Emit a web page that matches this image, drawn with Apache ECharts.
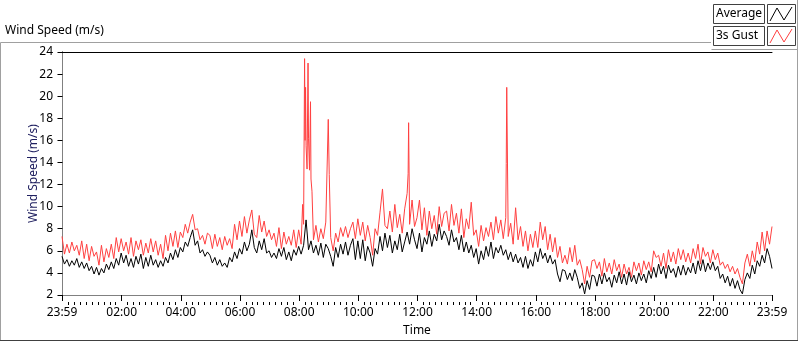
<!DOCTYPE html>
<html>
<head>
<meta charset="UTF-8">
<title>Wind Speed</title>
<style>
    html, body { margin: 0; padding: 0; background: #fff; }
    #chart { width: 800px; height: 342px; }
</style>
<script src="https://cdn.jsdelivr.net/npm/echarts@6/dist/echarts.min.js"></script>
</head>
<body>
<div id="chart"></div>
<script>
// time is in minutes after midnight, the log starts at 23:59 the day before
var startMinute = -1;
var stepMinutes = 5;

// average (m/s), one row per hour
var avgSpeed = [
    5.5, 4.8, 5.2, 4.6, 5.1, 4.7, 5.3, 4.5, 5.0, 4.4, 4.9, 4.2,
    4.6, 3.9, 4.5, 3.8, 4.4, 4.0, 4.8, 4.3, 5.0, 4.4, 5.3, 4.7,
    5.8, 4.9, 5.6, 4.6, 5.3, 4.5, 5.5, 4.8, 5.7, 4.4, 5.4, 4.6,
    5.6, 4.7, 5.2, 4.5, 5.1, 4.6, 5.4, 4.9, 5.8, 5.2, 6.1, 5.4,
    6.3, 5.9, 6.8, 6.4, 7.2, 7.9, 6.5, 6.9, 5.8, 6.1, 5.5, 5.9,
    5.6, 4.9, 5.4, 4.7, 5.2, 4.6, 4.9, 4.5, 5.4, 5.0, 5.9, 5.3,
    6.2, 5.7, 6.8, 6.0, 6.6, 7.9, 6.3, 5.8, 6.9, 6.1, 7.1, 5.8,
    6.0, 5.4, 5.8, 5.3, 6.2, 5.5, 6.3, 5.2, 5.9, 5.1, 6.1, 5.6,
    6.4, 5.7, 6.5, 8.8, 6.1, 6.9, 5.8, 6.5, 5.6, 6.7, 5.4, 6.6,
    6.2, 5.5, 4.6, 6.3, 5.4, 6.6, 5.7, 6.8, 5.6, 6.5, 7.1, 5.2,
    6.9, 5.3, 7.0, 5.1, 6.4, 5.8, 4.6, 6.2, 5.7, 7.3, 6.0, 7.6,
    6.3, 7.4, 5.8, 6.9, 6.1, 7.5, 5.9, 6.8, 7.7, 6.6, 8.0, 7.0,
    6.2, 7.6, 5.9, 7.2, 6.6, 7.8, 6.4, 7.5, 6.9, 8.4, 7.0, 7.8,
    7.3, 6.5, 7.9, 6.8, 7.2, 6.1, 7.4, 5.9, 6.8, 5.8, 6.5, 5.4,
    6.2, 4.8, 6.0, 5.2, 6.4, 5.5, 6.8, 5.3, 6.3, 5.8, 6.5, 5.6,
    6.1, 5.2, 5.9, 5.0, 5.7, 4.9, 5.4, 4.5, 5.5, 4.4, 5.2, 4.6,
    5.9, 5.0, 6.2, 5.3, 5.8, 4.9, 5.6, 4.8, 5.2, 3.9, 3.2, 4.3,
    4.2, 3.4, 4.0, 3.3, 4.3, 3.6, 2.6, 3.1, 2.1, 3.3, 2.5, 3.8,
    3.7, 2.8, 3.9, 3.0, 4.0, 3.2, 3.6, 2.7, 3.8, 3.1, 4.1, 3.0,
    3.9, 2.9, 4.1, 3.2, 3.8, 3.0, 4.0, 3.3, 3.9, 3.1, 4.2, 3.5,
    4.5, 3.6, 4.8, 3.9, 4.6, 3.5, 4.7, 4.0, 4.4, 3.6, 4.6, 3.8,
    4.7, 3.8, 4.5, 4.0, 4.9, 3.9, 5.1, 4.2, 5.2, 4.1, 4.9, 4.3,
    5.0, 4.2, 4.6, 3.5, 3.9, 3.1, 3.7, 2.8, 3.5, 2.6, 3.3, 2.5,
    2.1, 3.4, 4.0, 3.5, 4.7, 3.9, 5.1, 4.6, 5.6, 4.9, 6.2, 5.5,
    4.4
];

// 3s gust (m/s), same time steps
var gustBase = [
    7.3, 5.7, 6.6, 5.8, 6.8, 6.0, 6.5, 5.6, 6.9, 5.3, 6.6, 5.1,
    6.4, 5.5, 5.9, 4.7, 6.5, 5.0, 6.2, 5.4, 6.6, 5.3, 7.2, 5.9,
    7.1, 6.0, 6.8, 5.7, 7.2, 5.5, 6.9, 6.1, 7.0, 5.6, 6.7, 5.8,
    7.1, 5.9, 6.9, 5.6, 6.6, 5.3, 7.4, 6.0, 7.6, 6.4, 7.8, 6.3,
    7.7, 7.2, 8.4, 7.6, 8.6, 9.3, 7.9, 8.0, 7.0, 7.4, 6.6, 7.6,
    7.4, 6.2, 7.5, 6.4, 7.2, 6.1, 7.3, 6.5, 7.1, 6.2, 8.4, 7.0,
    8.7, 7.3, 9.1, 7.6, 8.8, 9.7, 7.5, 7.2, 9.2, 7.7, 8.7, 7.3,
    7.9, 7.0, 7.6, 6.4, 8.1, 6.2, 7.7, 6.6, 7.3, 6.5, 7.9, 6.3,
    7.9, 6.6, 8.4, 15.5, 16.2, 12.5, 7.0, 8.3, 6.8, 8.0, 7.1, 8.6,
    17.9, 7.2, 6.0, 7.6, 6.8, 8.1, 7.3, 8.2, 7.2, 8.0, 8.6, 7.1,
    8.9, 7.4, 8.6, 6.9, 8.3, 7.2, 5.6, 8.0, 7.4, 9.5, 11.6, 8.3,
    8.0, 9.6, 7.7, 10.2, 8.1, 9.3, 7.6, 9.8, 11.2, 8.4, 10.6, 8.2,
    9.0, 10.6, 7.9, 9.9, 7.4, 9.6, 8.0, 9.2, 7.5, 10.0, 8.2, 9.4,
    9.6, 7.8, 10.2, 8.3, 9.4, 7.6, 9.8, 7.2, 8.9, 8.0, 10.4, 7.4,
    7.9, 6.4, 8.3, 6.9, 8.1, 7.3, 8.6, 7.0, 9.1, 7.6, 8.8, 7.1,
    9.0, 7.3, 8.5, 6.6, 9.9, 7.0, 8.2, 6.4, 7.8, 6.0, 7.5, 6.3,
    7.8, 6.3, 8.6, 7.0, 8.2, 6.1, 7.5, 5.9, 7.2, 5.4, 6.4, 4.9,
    5.6, 4.8, 6.3, 5.0, 6.5, 4.7, 5.2, 4.3, 3.0, 4.6, 3.6, 5.1,
    5.2, 4.4, 5.0, 3.7, 5.3, 4.1, 4.9, 3.9, 5.2, 4.2, 4.8, 3.6,
    4.8, 3.9, 4.5, 3.6, 5.0, 4.2, 4.9, 3.8, 5.1, 4.3, 5.0, 4.1,
    6.0, 5.4, 5.6, 4.6, 5.8, 4.4, 6.1, 5.0, 5.9, 4.8, 6.2, 5.2,
    6.1, 5.0, 5.8, 4.9, 6.2, 5.3, 6.6, 4.8, 6.3, 5.5, 5.9, 4.9,
    6.1, 5.2, 5.8, 4.7, 5.0, 4.4, 4.8, 4.1, 4.6, 3.9, 4.4, 3.6,
    3.0, 4.9, 5.7, 4.6, 6.0, 5.0, 6.8, 5.7, 7.7, 6.0, 7.8, 6.6,
    8.2
];

// short gust peaks between the regular steps
var gustPeakMinutes = [487, 491, 492, 493, 496, 498, 501, 503, 506, 541, 701, 702, 900, 901];
var gustPeakValues = [10.2, 23.4, 16.0, 20.8, 13.4, 23.0, 13.3, 19.5, 11.4, 12.9, 13.0, 17.6, 13.9, 20.8];

var tickMinutes = [-1, 120, 240, 360, 480, 600, 720, 840, 960, 1080, 1200, 1320, 1439];
var tickLabels = ['23:59', '02:00', '04:00', '06:00', '08:00', '10:00', '12:00',
    '14:00', '16:00', '18:00', '20:00', '22:00', '23:59'];

var avgData = avgSpeed.map(function (v, i) {
    return [startMinute + i * stepMinutes, v];
});
var gustData = gustBase.map(function (v, i) {
    return [startMinute + i * stepMinutes, v];
});
for (var k = 0; k < gustPeakMinutes.length; k++) {
    gustData.push([gustPeakMinutes[k], gustPeakValues[k]]);
}
gustData.sort(function (a, b) { return a[0] - b[0]; });

// small ticks every 12 min between the labelled ones
var minorMinutes = [];
for (var m = 12; m < 1439; m += 12) {
    if (m % 120 !== 0) minorMinutes.push(m);
}

var font = 'Noto Sans';
var chart = echarts.init(document.getElementById('chart'));

var option = {
    animation: false,
    textStyle: { fontFamily: font },
    title: {
        text: 'Wind Speed (m/s)',
        left: 5,
        top: 25,
        padding: 0,
        textStyle: { fontSize: 12, fontWeight: 'normal', color: '#000', fontFamily: font }
    },
    grid: [
        { left: 62, right: 28, top: 52, bottom: 40 },
        { left: 62, right: 28, top: 52, bottom: 40 }
    ],
    xAxis: [
        {
            gridIndex: 0, type: 'value', position: 'bottom', min: -1, max: 1439,
            name: 'Time', nameLocation: 'middle', nameGap: 30, nameMoveOverlap: false,
            nameTextStyle: { color: '#000', fontSize: 12, fontFamily: font },
            axisLine: { show: true, onZero: false, lineStyle: { color: '#808080' } },
            axisTick: { show: true, length: 6, customValues: tickMinutes, lineStyle: { color: '#000' } },
            axisLabel: {
                customValues: tickMinutes, margin: 12, color: '#000', fontSize: 12, fontFamily: font,
                formatter: function (v) { return tickLabels[tickMinutes.indexOf(v)]; }
            },
            splitLine: { show: false }
        },
        {
            gridIndex: 0, type: 'value', position: 'top', min: -1, max: 1439,
            axisLine: { show: true, onZero: false, lineStyle: { color: '#000' } },
            axisTick: { show: false }, axisLabel: { show: false }, splitLine: { show: false }
        },
        {
            gridIndex: 1, type: 'value', position: 'bottom', min: -1, max: 1439,
            axisLine: { show: false, onZero: false },
            axisTick: { show: true, length: 3, customValues: minorMinutes, lineStyle: { color: '#000' } },
            axisLabel: { show: false }, splitLine: { show: false }
        }
    ],
    yAxis: [
        {
            gridIndex: 0, type: 'value', min: 2, max: 24, interval: 2,
            name: 'Wind Speed (m/s)', nameLocation: 'middle', nameGap: 22, nameMoveOverlap: false,
            nameTextStyle: { color: '#202060', fontSize: 12, fontFamily: font },
            axisLine: { show: true, lineStyle: { color: '#000' } },
            axisTick: { show: true, length: 5, lineStyle: { color: '#000' } },
            axisLabel: { margin: 9, color: '#000', fontSize: 12, fontFamily: font },
            splitLine: { show: false }
        },
        {
            gridIndex: 0, type: 'value', position: 'right', min: 2, max: 24,
            axisLine: { show: true, lineStyle: { color: '#808080' } },
            axisTick: { show: false }, axisLabel: { show: false }, splitLine: { show: false }
        },
        { gridIndex: 1, type: 'value', min: 2, max: 24, show: false }
    ],
    series: [
        {
            name: '3s Gust', type: 'line', xAxisIndex: 0, yAxisIndex: 0,
            data: gustData, symbol: 'none', silent: true,
            lineStyle: { color: '#ff4040', width: 1 }, itemStyle: { color: '#ff4040' }, z: 2
        },
        {
            name: 'Average', type: 'line', xAxisIndex: 0, yAxisIndex: 0,
            data: avgData, symbol: 'none', silent: true,
            lineStyle: { color: '#000', width: 1 }, itemStyle: { color: '#000' }, z: 3
        }
    ],
    graphic: [
        // panel frame
        { type: 'rect', silent: true, shape: { x: 0.5, y: 42.5, width: 797, height: 298 },
          style: { fill: null, stroke: '#a0a0a0', lineWidth: 1 } },
        { type: 'line', silent: true, shape: { x1: 0, y1: 340.5, x2: 798, y2: 340.5 },
          style: { stroke: '#404040', lineWidth: 1 } },
        // legend panel
        { type: 'rect', silent: true, shape: { x: 711, y: 0, width: 87, height: 49 },
          style: { fill: '#fff', stroke: null } },
        { type: 'polyline', silent: true, shape: { points: [[711.5, 49.5], [797.5, 49.5], [797.5, 0]] },
          style: { fill: null, stroke: '#a0a0a0', lineWidth: 1 } },
        { type: 'rect', silent: true, shape: { x: 713.5, y: 4.5, width: 51, height: 19 },
          style: { fill: '#fff', stroke: '#404040', lineWidth: 1 } },
        { type: 'text', silent: true,
          style: { text: 'Average', x: 716, y: 14, verticalAlign: 'middle', fill: '#000', font: '12px "Noto Sans"' } },
        { type: 'rect', silent: true, shape: { x: 767.5, y: 4.5, width: 28, height: 19 },
          style: { fill: '#fff', stroke: '#404040', lineWidth: 1 } },
        { type: 'polyline', silent: true, shape: { points: [[770, 21], [777, 8], [784, 20], [792, 7]] },
          style: { fill: null, stroke: '#000', lineWidth: 1 } },
        { type: 'rect', silent: true, shape: { x: 713.5, y: 26.5, width: 51, height: 19 },
          style: { fill: '#fff', stroke: '#404040', lineWidth: 1 } },
        { type: 'text', silent: true,
          style: { text: '3s Gust', x: 716, y: 36, verticalAlign: 'middle', fill: '#000', font: '12px "Noto Sans"' } },
        { type: 'rect', silent: true, shape: { x: 767.5, y: 26.5, width: 28, height: 19 },
          style: { fill: '#fff', stroke: '#404040', lineWidth: 1 } },
        { type: 'polyline', silent: true, shape: { points: [[770, 43], [777, 30], [784, 42], [792, 29]] },
          style: { fill: null, stroke: '#ff4040', lineWidth: 1 } }
    ]
};

chart.setOption(option);
</script>
</body>
</html>
